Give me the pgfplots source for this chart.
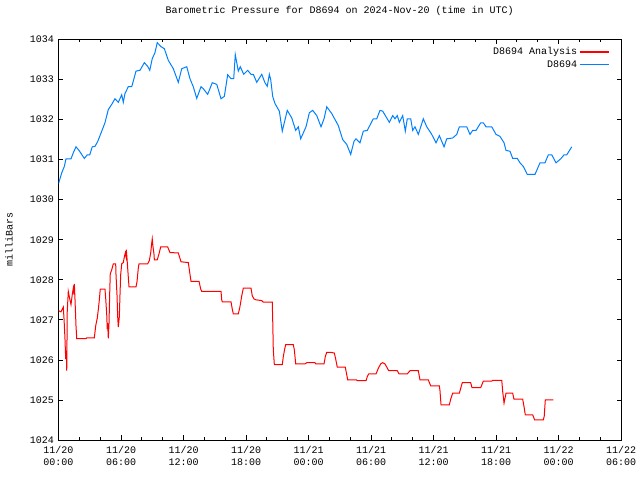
\documentclass[border=0pt]{standalone}
\usepackage{fontspec}
\setmainfont{Liberation Mono}
\usepackage{pgfplots}
\pgfplotsset{compat=1.18}
\definecolor{anared}{RGB}{255,0,0}
\definecolor{obsblue}{RGB}{0,128,255}
\newcommand{\gf}{\fontsize{7.5}{9}\selectfont}
\begin{document}
\begin{tikzpicture}
\useasboundingbox (0,0) rectangle (480pt,360pt);
\begin{axis}[
  at={(43.875pt,30pt)}, anchor=south west,
  scale only axis, width=421.9pt, height=300.4pt,
  xmin=0, xmax=54, ymin=1024, ymax=1034,
  axis line style={line width=0.75pt},
  xtick={0,6,...,54}, minor x tick num=2,
  ytick={1024,1025,...,1034},
  xticklabels={11/20\\00:00,11/20\\06:00,11/20\\12:00,11/20\\18:00,11/21\\00:00,11/21\\06:00,11/21\\12:00,11/21\\18:00,11/22\\00:00,11/22\\06:00},
  yticklabels={1024,1025,1026,1027,1028,1029,1030,1031,1032,1033,1034},
  xticklabel style={align=center, font=\gf, yshift=-1pt},
  yticklabel style={font=\gf},
  tick align=inside, tick pos=both,
  major tick length=3.4pt, minor tick length=2pt,
  tick style={black, line width=0.6pt},
  title={Barometric Pressure for D8694 on 2024-Nov-20 (time in UTC)},
  title style={font=\gf, at={(axis description cs:0.5,1.051)}, anchor=center},
  ylabel={milliBars},
  ylabel style={font=\gf, at={(axis description cs:-0.088,0.5)}, anchor=center, rotate=0},
  legend style={draw=white, fill=white, font=\gf, at={(axis description cs:0.9804,0.9863)}, anchor=north east, inner sep=0pt, row sep=0pt, nodes={inner sep=1.5pt}},
  legend cell align=right, legend plot pos=right,
  legend image code/.code={\draw[mark repeat=2,mark phase=2,#1,line width=1pt] plot coordinates {(0pt,0pt) (11pt,0pt) (22pt,0pt)};},
]
\addplot[draw=anared, line width=0.75pt] coordinates {
(0.00,1027.23) (0.24,1027.20) (0.46,1027.32) (0.53,1027.03) (0.62,1026.54) (0.69,1026.02) (0.75,1026.23) (0.79,1025.73)
(0.84,1027.21) (0.94,1027.71) (1.08,1027.52) (1.20,1027.38) (1.32,1027.63) (1.42,1027.79) (1.49,1027.63) (1.52,1027.90)
(1.58,1027.54) (1.68,1026.85) (1.75,1026.53) (2.64,1026.53) (2.71,1026.55) (3.44,1026.55) (3.57,1026.85) (3.72,1027.04)
(3.82,1027.25) (3.92,1027.50) (4.01,1027.77) (4.46,1027.77) (4.53,1027.54) (4.63,1027.13) (4.68,1026.77) (4.72,1026.92)
(4.78,1026.54) (4.85,1026.92) (4.92,1027.71) (4.97,1028.15) (5.11,1028.25) (5.26,1028.40) (5.49,1028.40) (5.52,1028.13)
(5.62,1027.60) (5.68,1027.08) (5.74,1026.82) (5.84,1027.08) (5.90,1027.60) (5.97,1028.13) (6.07,1028.40) (6.22,1028.43)
(6.32,1028.57) (6.41,1028.67) (6.48,1028.58) (6.51,1028.75) (6.58,1028.52) (6.70,1028.07) (6.77,1027.82) (7.44,1027.82)
(7.54,1027.96) (7.66,1028.29) (7.73,1028.40) (8.56,1028.40) (8.72,1028.48) (8.85,1028.67) (8.95,1028.92) (9.00,1029.02)
(9.07,1028.83) (9.17,1028.63) (9.20,1028.50) (9.48,1028.50) (9.65,1028.65) (9.81,1028.82) (10.48,1028.82) (10.70,1028.68)
(11.50,1028.67) (11.76,1028.45) (12.46,1028.43) (12.56,1028.25) (12.72,1027.96) (13.49,1027.96) (13.65,1027.77) (13.75,1027.71)
(15.60,1027.71) (15.67,1027.50) (15.72,1027.45) (16.56,1027.45) (16.68,1027.27) (16.78,1027.15) (17.26,1027.15) (17.42,1027.33)
(17.59,1027.60) (17.74,1027.79) (18.48,1027.79) (18.60,1027.60) (18.77,1027.52) (18.96,1027.50) (19.51,1027.48) (19.66,1027.44)
(20.52,1027.44) (20.56,1027.04) (20.62,1026.25) (20.72,1025.88) (21.48,1025.88) (21.58,1026.08) (21.71,1026.27) (21.81,1026.38)
(22.54,1026.38) (22.64,1026.25) (22.77,1025.90) (23.66,1025.90) (23.83,1025.93) (24.62,1025.93) (24.69,1025.90) (25.49,1025.90)
(25.61,1026.08) (25.75,1026.19) (26.13,1026.19) (26.48,1026.17) (26.61,1026.02) (26.76,1025.82) (27.53,1025.82) (27.67,1025.63)
(27.76,1025.50) (28.62,1025.50) (28.68,1025.48) (29.52,1025.48) (29.64,1025.58) (29.78,1025.65) (30.48,1025.65) (30.70,1025.79)
(30.93,1025.90) (31.12,1025.93) (31.34,1025.90) (31.51,1025.82) (31.70,1025.73) (32.52,1025.73) (32.69,1025.65) (33.48,1025.65)
(33.74,1025.73) (34.54,1025.73) (34.70,1025.50) (35.50,1025.50) (35.73,1025.35) (36.56,1025.35) (36.62,1025.23) (36.72,1024.88)
(37.52,1024.88) (37.65,1025.02) (37.84,1025.17) (38.48,1025.17) (38.61,1025.29) (38.76,1025.43) (39.57,1025.43) (39.69,1025.31)
(40.53,1025.31) (40.66,1025.39) (40.78,1025.47) (41.59,1025.47) (41.68,1025.49) (42.55,1025.49) (42.64,1025.21) (42.77,1024.92)
(42.96,1025.17) (43.60,1025.17) (43.72,1025.02) (44.56,1025.02) (44.69,1024.83) (44.81,1024.63) (45.52,1024.63) (45.71,1024.50)
(46.54,1024.50) (46.63,1024.60) (46.73,1025.00) (47.50,1025.00)
};
\addlegendentry{D8694 Analysis}
\addplot[draw=obsblue, line width=0.75pt] coordinates {
(0.00,1030.40) (0.31,1030.67) (0.56,1030.83) (0.72,1031.02) (1.20,1031.02) (1.42,1031.17) (1.68,1031.32) (1.97,1031.23)
(2.48,1031.03) (2.76,1031.12) (3.00,1031.12) (3.24,1031.32) (3.50,1031.33) (3.76,1031.45) (4.15,1031.71) (4.46,1031.92)
(4.78,1032.25) (5.11,1032.38) (5.42,1032.52) (5.74,1032.43) (6.07,1032.62) (6.22,1032.43) (6.38,1032.65) (6.70,1032.82)
(7.03,1032.82) (7.44,1033.21) (7.82,1033.23) (8.24,1033.42) (8.56,1033.33) (8.76,1033.23) (9.00,1033.52) (9.26,1033.67)
(9.48,1033.92) (9.84,1033.82) (10.16,1033.77) (10.54,1033.48) (11.02,1033.27) (11.50,1032.93) (11.83,1033.27) (12.31,1033.32)
(12.62,1033.02) (12.94,1032.82) (13.27,1032.53) (13.68,1032.82) (13.90,1032.77) (14.32,1032.63) (14.76,1032.92) (15.19,1032.88)
(15.60,1032.52) (15.92,1032.58) (16.24,1033.12) (16.56,1033.02) (16.82,1033.02) (16.97,1033.62) (17.26,1033.21) (17.45,1033.32)
(17.78,1033.13) (18.16,1033.23) (18.48,1033.13) (18.70,1033.13) (19.03,1032.93) (19.51,1033.13) (19.82,1032.92) (20.04,1032.83)
(20.24,1033.13) (20.37,1033.00) (20.56,1032.58) (20.78,1032.40) (21.20,1032.21) (21.48,1031.71) (21.96,1032.23) (22.39,1032.04)
(22.77,1031.73) (23.02,1031.82) (23.25,1031.52) (23.76,1031.82) (24.08,1032.17) (24.40,1032.23) (24.79,1032.10) (25.20,1031.82)
(25.49,1032.02) (25.75,1032.32) (26.23,1032.15) (26.86,1031.85) (27.28,1031.50) (27.67,1031.38) (28.05,1031.13) (28.37,1031.46)
(28.56,1031.52) (28.94,1031.42) (29.26,1031.71) (29.64,1031.73) (30.22,1032.02) (30.55,1032.02) (30.86,1032.23) (31.12,1032.21)
(31.76,1031.93) (32.08,1032.10) (32.30,1032.02) (32.52,1032.10) (32.72,1031.93) (33.04,1032.10) (33.29,1031.71) (33.48,1032.02)
(33.81,1032.02) (34.00,1031.73) (34.22,1031.82) (34.54,1031.63) (35.02,1032.02) (35.35,1031.82) (35.83,1031.63) (36.24,1031.42)
(36.56,1031.60) (37.01,1031.32) (37.27,1031.52) (37.84,1031.54) (38.23,1031.63) (38.48,1031.82) (39.19,1031.82) (39.50,1031.63)
(39.76,1031.73) (40.08,1031.73) (40.53,1031.92) (40.78,1031.92) (41.04,1031.82) (41.59,1031.82) (42.00,1031.63) (42.38,1031.58)
(42.77,1031.42) (42.96,1031.23) (43.34,1031.21) (43.60,1031.03) (44.04,1031.03) (44.30,1030.92) (44.62,1030.83) (45.00,1030.63)
(45.74,1030.63) (46.22,1030.92) (46.70,1030.92) (47.02,1031.12) (47.35,1031.12) (47.76,1030.92) (48.21,1031.02) (48.53,1031.12)
(48.79,1031.12) (49.27,1031.32)
};
\addlegendentry{D8694}
\end{axis}
\end{tikzpicture}
\end{document}
